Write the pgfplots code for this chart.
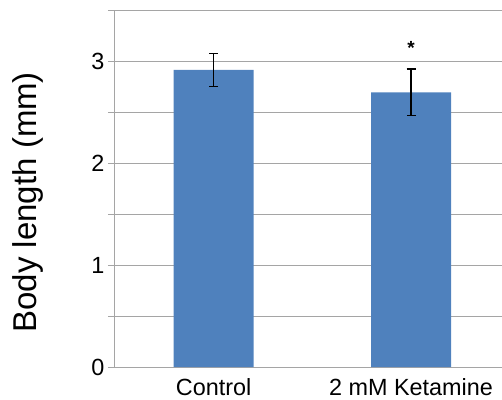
\documentclass[border=0pt]{standalone}
\usepackage{pgfplots}
\pgfplotsset{compat=1.18}
\usepackage{fontspec}
\setmainfont{Liberation Sans}
\definecolor{barblue}{HTML}{4F81BD}
\definecolor{gridgray}{RGB}{165,165,165}
\begin{document}
\begin{tikzpicture}
\begin{axis}[
  name=ax,
  scale only axis,
  width=387pt, height=356pt,
  xmin=-0.5, xmax=1.461,
  ymin=0, ymax=3.5,
  axis x line*=bottom, axis y line*=left,
  axis line style={-, draw=gridgray, line width=1pt},
  ybar, bar width=80pt,
  ytick={0,0.5,1,1.5,2,2.5,3,3.5},
  yticklabels={0,,1,,2,,3,},
  ymajorgrids, grid style={draw=gridgray, line width=1pt},
  tick align=outside,
  major tick length=7pt,
  tick style={draw=gridgray, line width=1pt},
  xtick={0,1},
  xticklabels={Control,2 mM Ketamine},
  x tick style={draw=none},
  extra x ticks={-0.5,0.5},
  extra x tick labels={},
  extra x tick style={grid=none, tick style={draw=gridgray, line width=1pt}},
  /pgf/number format/assume math mode=true,
  tick label style={font=\fontsize{23.4}{28}\selectfont, text=black},
  xticklabel style={inner sep=0pt, text depth=0pt, yshift=-4pt},
  ylabel={Body length (mm)},
  ylabel style={font=\fontsize{33}{38}\selectfont, at={(axis description cs:-0.225,0.463)}, anchor=center},
  clip=false,
]
\addplot[fill=barblue, draw=none,
  error bars/.cd, y dir=both, y explicit,
  error bar style={black, line width=1.3pt},
  error mark options={black, line width=1.3pt, mark size=4.5pt, rotate=90}]
  coordinates {(0,2.92) +- (0,0.165) (1,2.70) +- (0,0.23)};
\node[anchor=base, inner sep=0pt, font=\fontsize{19}{22}\selectfont\bfseries] at (axis cs:1,3.18) [yshift=-11pt] {*};
\end{axis}
\pgfresetboundingbox
\path[use as bounding box] ([xshift=-115pt,yshift=-32pt]ax.south west) rectangle ([yshift=11pt]ax.north east);
\end{tikzpicture}
\end{document}
